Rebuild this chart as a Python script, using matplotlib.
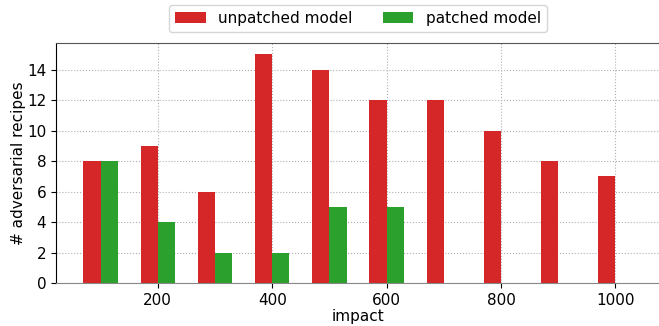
import matplotlib
matplotlib.use("Agg")
import matplotlib.pyplot as plt
import numpy as np

impact = [100, 200, 300, 400, 500, 600, 700, 800, 900, 1000]
unpatched = [8, 9, 6, 15, 14, 12, 12, 10, 8, 7]
patched = [8, 4, 2, 2, 5, 5, 0, 0, 0, 0]

bar_width = 30
x = np.array(impact)

fig = plt.figure(figsize=(6.59, 3.26), dpi=100)
ax = fig.add_axes([56 / 659, 43 / 326, 604 / 659, 240 / 326])

ax.bar(x - bar_width / 2, unpatched, width=bar_width, color="#d62728", label="unpatched model")
ax.bar(x + bar_width / 2, patched, width=bar_width, color="#2ca02c", label="patched model")

ax.set_xlabel("impact", fontsize=11, labelpad=1)
ax.set_ylabel("# adversarial recipes", fontsize=11, labelpad=1)
ax.set_xticks([200, 400, 600, 800, 1000])
ax.set_yticks(range(0, 15, 2))
ax.tick_params(labelsize=11)
ax.set_axisbelow(True)
ax.grid(True, linestyle=":", color="#b0b0b0", linewidth=0.8)

ax.spines["left"].set_color("black")
ax.spines["top"].set_color("#555555")
ax.spines["bottom"].set_color("#888888")

ax.legend(loc="lower center", bbox_to_anchor=(0.5, 1.046), ncol=2, fontsize=11,
          handlelength=2.0, columnspacing=2.0, borderaxespad=0)

fig.savefig("out.png", dpi=100)
plt.close(fig)
